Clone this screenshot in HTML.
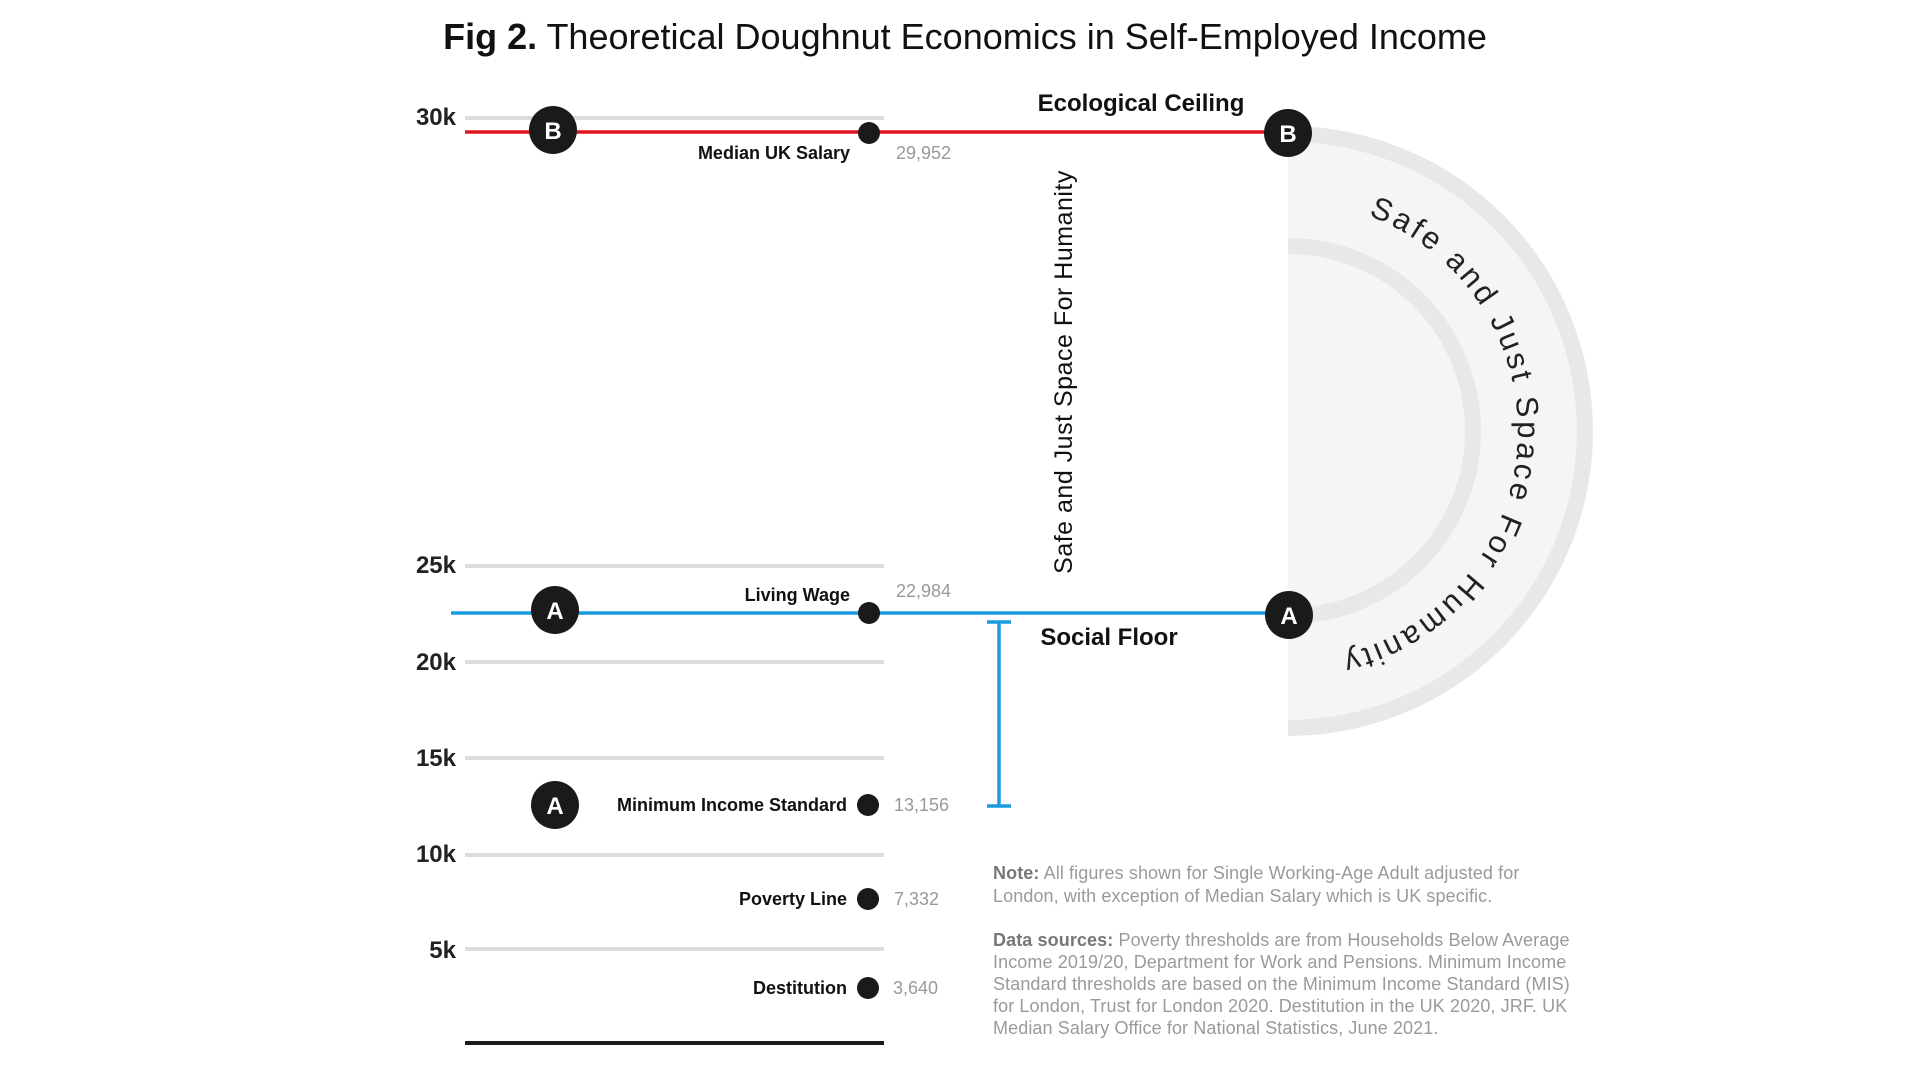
<!DOCTYPE html>
<html><head><meta charset="utf-8"><style>
html,body{margin:0;padding:0;background:#fff;}
svg{display:block;font-family:"Liberation Sans",sans-serif;}
</style></head><body>
<svg width="1920" height="1080" viewBox="0 0 1920 1080" xmlns="http://www.w3.org/2000/svg">
<text x="965" y="49" text-anchor="middle" font-size="36" fill="#111"><tspan font-weight="bold">Fig 2.</tspan> Theoretical Doughnut Economics in Self-Employed Income</text>

<!-- doughnut arc -->
<path d="M1288 126 A305 305 0 0 1 1288 736 Z" fill="#f5f5f5"/>
<path d="M1288 134 A297 297 0 0 1 1288 728" fill="none" stroke="#e8e8e8" stroke-width="16"/>
<path d="M1288 246 A185 185 0 0 1 1288 616" fill="none" stroke="#e8e8e8" stroke-width="16"/>
<path d="M1288 606 A175 175 0 0 1 1288 256 Z" fill="#fff"/>
<path id="arcp" d="M1288 201 A230 230 0 0 1 1288 661" fill="none"/>
<text font-size="31" fill="#222"><textPath href="#arcp" startOffset="82" textLength="585" lengthAdjust="spacing">Safe and Just Space For Humanity</textPath></text>

<!-- gridlines -->
<g stroke="#dcdcdc" stroke-width="4">
<line x1="465" y1="118" x2="884" y2="118"/>
<line x1="465" y1="566" x2="884" y2="566"/>
<line x1="465" y1="662" x2="884" y2="662"/>
<line x1="465" y1="758" x2="884" y2="758"/>
<line x1="465" y1="855" x2="884" y2="855"/>
<line x1="465" y1="949" x2="884" y2="949"/>
</g>
<line x1="465" y1="1043" x2="884" y2="1043" stroke="#1a1a1a" stroke-width="4"/>

<g font-size="24" fill="#222" text-anchor="end" font-weight="bold">
<text x="456" y="125">30k</text>
<text x="456" y="573">25k</text>
<text x="456" y="670">20k</text>
<text x="456" y="766">15k</text>
<text x="456" y="862">10k</text>
<text x="456" y="958">5k</text>
</g>

<!-- lines -->
<line x1="465" y1="132" x2="1288" y2="132" stroke="#e0141e" stroke-width="3.5"/>
<line x1="451" y1="613" x2="1288" y2="613" stroke="#1a9be0" stroke-width="3.5"/>

<!-- error bar -->
<g stroke="#1a9be0" stroke-width="3.5">
<line x1="999" y1="622" x2="999" y2="806"/>
<line x1="987" y1="622" x2="1011" y2="622"/>
<line x1="987" y1="806" x2="1011" y2="806"/>
</g>

<!-- circles -->
<g fill="#1a1a1a">
<circle cx="553" cy="130" r="24"/><circle cx="1288" cy="133" r="24"/>
<circle cx="555" cy="610" r="24"/><circle cx="1289" cy="615" r="24"/>
<circle cx="555" cy="805" r="24"/>
<circle cx="869" cy="133" r="11"/><circle cx="869" cy="613" r="11"/>
<circle cx="868" cy="805" r="11"/><circle cx="868" cy="899" r="11"/><circle cx="868" cy="988" r="11"/>
</g>
<g fill="#fff" font-size="24" font-weight="bold" text-anchor="middle">
<text x="553" y="139">B</text><text x="1288" y="142">B</text>
<text x="555" y="619">A</text><text x="1289" y="624">A</text><text x="555" y="814">A</text>
</g>

<!-- labels -->
<g font-size="18" fill="#111" text-anchor="end" font-weight="bold">
<text x="850" y="159">Median UK Salary</text>
<text x="850" y="601">Living Wage</text>
<text x="847" y="811">Minimum Income Standard</text>
<text x="847" y="905">Poverty Line</text>
<text x="847" y="994">Destitution</text>
</g>
<g font-size="18" fill="#999">
<text x="896" y="159">29,952</text>
<text x="896" y="597">22,984</text>
<text x="894" y="811">13,156</text>
<text x="894" y="905">7,332</text>
<text x="893" y="994">3,640</text>
</g>

<text x="1141" y="111" text-anchor="middle" font-size="24" font-weight="bold" fill="#111">Ecological Ceiling</text>
<text x="1109" y="645" text-anchor="middle" font-size="24" font-weight="bold" fill="#111">Social Floor</text>
<text transform="translate(1072,372) rotate(-90)" text-anchor="middle" font-size="25" fill="#111" letter-spacing="0.5">Safe and Just Space For Humanity</text>

<!-- notes -->
<g font-size="18" fill="#9a9a9a" letter-spacing="0.1">
<text x="993" y="879"><tspan font-weight="bold" fill="#777">Note:</tspan> All figures shown for Single Working-Age Adult adjusted for</text>
<text x="993" y="902">London, with exception of Median Salary which is UK specific.</text>
<text x="993" y="946"><tspan font-weight="bold" fill="#777">Data sources:</tspan> Poverty thresholds are from Households Below Average</text>
<text x="993" y="968">Income 2019/20, Department for Work and Pensions. Minimum Income</text>
<text x="993" y="990">Standard thresholds are based on the Minimum Income Standard (MIS)</text>
<text x="993" y="1012">for London, Trust for London 2020. Destitution in the UK 2020, JRF. UK</text>
<text x="993" y="1034">Median Salary Office for National Statistics, June 2021.</text>
</g>
</svg>
</body></html>
